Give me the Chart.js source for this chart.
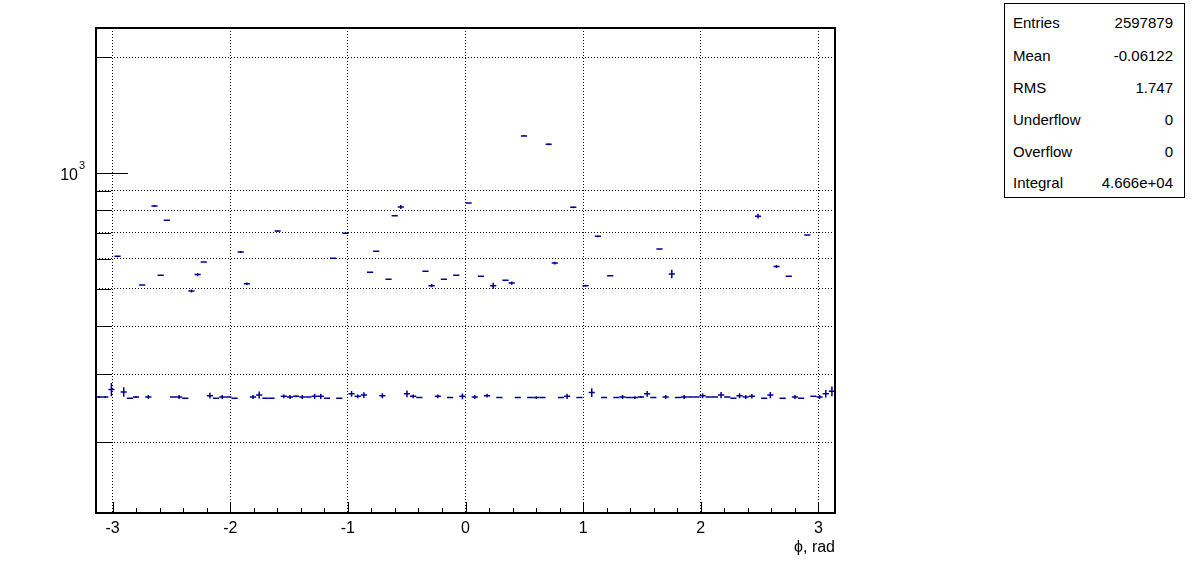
<!DOCTYPE html>
<html>
<head>
<meta charset="utf-8">
<script src="https://cdn.jsdelivr.net/npm/chart.js@4/dist/chart.umd.min.js"></script>
<style>
  body { margin: 0; background: #fff; }
  #wrap { position: relative; width: 1196px; height: 572px; }
  #phiChart { position: absolute; left: 0; top: 0; }
  .stats {
    position: absolute; left: 1004px; top: 3px; width: 181px; height: 195px;
    border: 1px solid #000; box-sizing: border-box; background: #fff;
    font-family: 'Liberation Sans', Arial, sans-serif; font-size: 15px; color: #000;
  }
  .stats .row { position: absolute; left: 8px; right: 11px; height: 18px; line-height: 18px;
    display: flex; justify-content: space-between; }
</style>
</head>
<body>
<div id="wrap">
  <canvas id="phiChart" width="1196" height="572"></canvas>
  <div class="stats" id="stats"></div>
</div>
<script>
// histogram: 120 bins over [-pi, pi]
const xMin = -Math.PI;
const xMax = Math.PI;

const counts = [
  262, 262, 274, 608, 270, 260, 262, 512, 262, 822,
  543, 755, 262, 262, 260, 494, 545, 588, 264, 260,
  262, 262, 260, 624, 516, 262, 265, 260, 260, 707,
  263, 262, 263, 262, 262, 263, 263, 260, 601, 260,
  698, 267, 263, 265, 553, 627, 264, 530, 775, 817,
  267, 263, 261, 556, 510, 263, 530, 261, 543, 263,
  837, 262, 540, 264, 510, 261, 527, 518, 261, 1250,
  261, 261, 261, 1190, 584, 261, 263, 816, 261, 510,
  269, 686, 261, 541, 261, 262, 261, 261, 262, 267,
  261, 635, 262, 547, 261, 262, 262, 262, 264, 262,
  262, 265, 262, 260, 264, 262, 263, 773, 260, 265,
  572, 260, 540, 262, 260, 691, 263, 262, 267, 271
];

const errors = [
  1.5, 1.5, 11, 3, 7.5, 0.5, 1.5, 2, 3, 5,
  2, 2, 0.5, 3, 0.5, 4.5, 5, 2, 4.5, 0.5,
  3, 1, 0.5, 4, 4, 3, 5.5, 0.5, 0.5, 4,
  3, 3, 1.5, 3, 1, 4, 4, 0.5, 2, 0.5,
  2, 4.5, 3, 4.5, 2, 2, 4, 2, 2, 10,
  5.5, 3, 1, 2, 5, 3, 2, 0.5, 2, 4.5,
  2, 3, 2, 3, 9, 0.5, 2, 5, 0.5, 7,
  0.5, 2, 0.5, 7, 5, 0.5, 4, 5, 0.5, 3,
  7, 4, 0.5, 2, 0.5, 3, 0.5, 2, 1.5, 4.5,
  0.5, 2, 3, 14, 0.5, 3, 1, 1, 4, 1,
  1, 5, 1, 0.5, 4, 3, 3.5, 11, 0.5, 5,
  5, 0.5, 2, 3, 0.5, 3, 1, 3, 6, 8
];

const xMajorTicks = [-3, -2, -1, 0, 1, 2, 3];
const xMinorStep = 0.2;
const yTicks = [200, 300, 400, 500, 600, 700, 800, 900, 1000, 2000];
const yMajorTick = 1000;
const yMin = 130.8;
const yMax = 2385;

const statNames = ['Entries', 'Mean', 'RMS', 'Underflow', 'Overflow', 'Integral'];
const statValues = ['2597879', '-0.06122', '1.747', '0', '0', '4.666e+04'];

const xTitle = '\u03D5, rad';
const markColor = '#000099';
const fontFamily = "'Liberation Sans', Arial, sans-serif";

const binW = (xMax - xMin) / counts.length;
const points = counts.map((c, i) => ({ x: xMin + (i + 0.5) * binW, y: c, e: errors[i] }));

const xTickValues = [];
for (let v = -3; v <= 3.0001; v += xMinorStep) xTickValues.push(Math.round(v * 10) / 10);
const isMajorX = v => xMajorTicks.includes(v);

// ROOT style error bars: horizontal bar over the bin, vertical +-error
const errorBars = {
  id: 'errorBars',
  afterDatasetsDraw(chart) {
    const { ctx, chartArea } = chart;
    const xs = chart.scales.x, ys = chart.scales.y;
    ctx.save();
    ctx.beginPath();
    ctx.rect(chartArea.left, chartArea.top, chartArea.right - chartArea.left, chartArea.bottom - chartArea.top);
    ctx.clip();
    ctx.strokeStyle = markColor;
    ctx.lineWidth = 1.5;
    chart.data.datasets[0].data.forEach(p => {
      const xl = xs.getPixelForValue(p.x - binW / 2);
      const xr = xs.getPixelForValue(p.x + binW / 2);
      const xc = xs.getPixelForValue(p.x);
      const yc = ys.getPixelForValue(p.y);
      const yt = ys.getPixelForValue(p.y + p.e);
      const yb = ys.getPixelForValue(p.y - p.e);
      ctx.beginPath();
      ctx.moveTo(xl, yc); ctx.lineTo(xr, yc);
      ctx.moveTo(xc, yt); ctx.lineTo(xc, yb);
      ctx.stroke();
    });
    ctx.restore();
  }
};

// frame, inward tick marks, 10^3 label and axis title
const frameAndTicks = {
  id: 'frameAndTicks',
  afterDraw(chart) {
    const { ctx, chartArea } = chart;
    const xs = chart.scales.x, ys = chart.scales.y;
    ctx.save();
    ctx.strokeStyle = '#000';
    ctx.lineWidth = 1;
    ctx.beginPath();
    xTickValues.forEach(v => {
      const px = Math.round(xs.getPixelForValue(v)) + 0.5;
      const len = isMajorX(v) ? 11 : 5;
      ctx.moveTo(px, chartArea.bottom);
      ctx.lineTo(px, chartArea.bottom - len);
    });
    yTicks.forEach(v => {
      const py = Math.round(ys.getPixelForValue(v)) + 0.5;
      const len = v === yMajorTick ? 32 : 15;
      ctx.moveTo(chartArea.left, py);
      ctx.lineTo(chartArea.left + len, py);
    });
    ctx.stroke();

    ctx.lineWidth = 2;
    ctx.strokeRect(chartArea.left, chartArea.top, chartArea.right - chartArea.left, chartArea.bottom - chartArea.top);

    ctx.fillStyle = '#000';
    const py = ys.getPixelForValue(yMajorTick);
    ctx.font = '16px ' + fontFamily;
    ctx.textAlign = 'right';
    ctx.textBaseline = 'middle';
    ctx.fillText('10', 78, py + 2);
    ctx.font = '11px ' + fontFamily;
    ctx.textAlign = 'left';
    ctx.fillText('3', 79, py - 7);

    ctx.font = '16px ' + fontFamily;
    ctx.textAlign = 'right';
    ctx.textBaseline = 'alphabetic';
    ctx.fillText(xTitle, chartArea.right, 552);
    ctx.restore();
  }
};

new Chart(document.getElementById('phiChart'), {
  type: 'scatter',
  data: {
    datasets: [{
      data: points,
      pointRadius: 0,
      pointHoverRadius: 0,
      showLine: false,
      borderColor: markColor
    }]
  },
  options: {
    responsive: false,
    animation: false,
    layout: { padding: { left: 0, top: 28, right: 361, bottom: 0 } },
    plugins: { legend: { display: false }, tooltip: { enabled: false } },
    scales: {
      x: {
        type: 'linear',
        min: xMin,
        max: xMax,
        afterBuildTicks: s => { s.ticks = xTickValues.map(v => ({ value: v })); },
        afterFit: s => { s.height = 59; },
        grid: {
          drawTicks: false,
          lineWidth: 1,
          color: c => (c.tick && isMajorX(c.tick.value)) ? '#000' : 'rgba(0,0,0,0)'
        },
        border: { display: false, dash: [1, 2] },
        ticks: {
          autoSkip: false,
          maxRotation: 0,
          padding: 6,
          color: '#000',
          font: { family: fontFamily, size: 16 },
          callback: v => isMajorX(v) ? String(v) : ''
        }
      },
      y: {
        type: 'logarithmic',
        min: yMin,
        max: yMax,
        afterBuildTicks: s => { s.ticks = yTicks.map(v => ({ value: v })); },
        afterFit: s => { s.width = 96; },
        grid: {
          drawTicks: false,
          lineWidth: 1,
          color: c => (c.tick && c.tick.value !== yMajorTick) ? '#000' : 'rgba(0,0,0,0)'
        },
        border: { display: false, dash: [1, 2] },
        ticks: { display: false }
      }
    }
  },
  plugins: [errorBars, frameAndTicks]
});

const statsBox = document.getElementById('stats');
const rowCentres = [22, 55, 87, 119, 151, 182];
statNames.forEach((name, i) => {
  const row = document.createElement('div');
  row.className = 'row';
  row.style.top = (rowCentres[i] - 3 - 9) + 'px';
  row.innerHTML = '<span>' + name + '</span><span>' + statValues[i] + '</span>';
  statsBox.appendChild(row);
});
</script>
</body>
</html>
